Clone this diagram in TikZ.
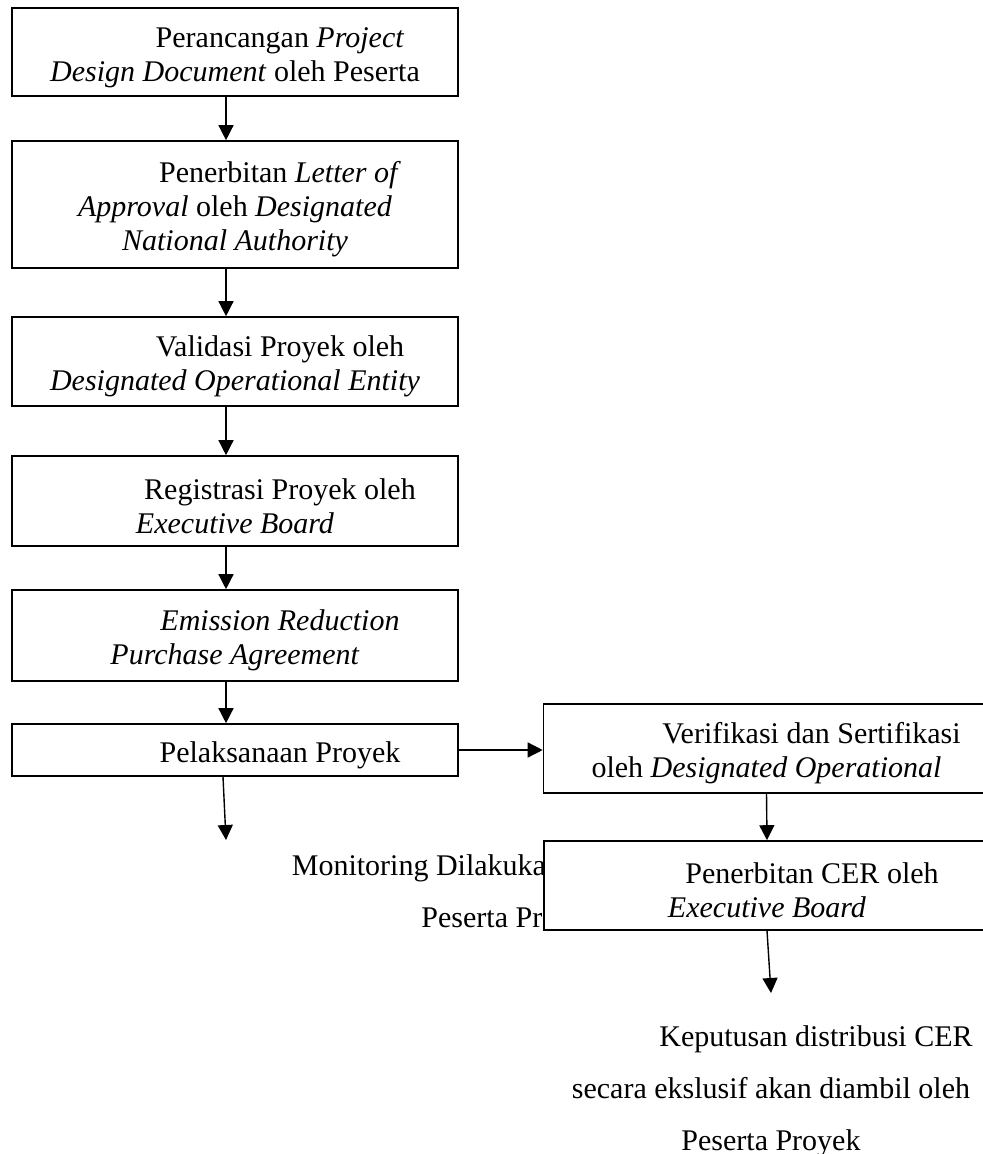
\documentclass[tikz,border=0pt]{standalone}
\usepackage{fontspec}
\setmainfont{Liberation Serif}
\usetikzlibrary{arrows.meta,positioning}
\newcommand{\ind}{\hspace*{3em}\rule{0pt}{15.5pt}}

\begin{document}
\begin{tikzpicture}[x=0.5pt, y=-0.5pt,
    box/.style={draw, line width=0.8pt, fill=white, inner sep=0pt, minimum width=223pt, align=center, font=\fontsize{15}{17}\selectfont},
    arr/.style={-{Triangle[length=7.5pt,width=7.5pt]}, line width=0.7pt},
    note/.style={align=center, font=\fontsize{15}{26}\selectfont}
]
\useasboundingbox (0,0) rectangle (982,1154);
\node[box, minimum height=44pt] (pdd) at (235,52) {\ind Perancangan \emph{Project}\\\emph{Design Document} oleh Peserta};
\node[box, minimum height=63.5pt] (loa) at (235,204.5) {\ind Penerbitan \emph{Letter of}\\\emph{Approval} oleh \emph{Designated}\\\emph{National Authority}};
\node[box, minimum height=44.5pt] (val) at (235,361.5) {\ind Validasi Proyek oleh\\\emph{Designated Operational Entity}};
\node[box, minimum height=45pt] (reg) at (235,501) {\ind Registrasi Proyek oleh\\\emph{Executive Board}};
\node[box, minimum height=45.5pt] (erpa) at (235,635.5) {\ind\emph{Emission Reduction}\\\emph{Purchase Agreement}};
\node[box, minimum height=26pt] (pel) at (235,750) {\ind Pelaksanaan Proyek};
\node[box, minimum height=44.5pt] (ver) at (766.5,748.5) {\ind Verifikasi dan Sertifikasi\\oleh \emph{Designated Operational}};
% monitoring text runs under the CER box
\begin{scope}
  \clip (0,0) rectangle (544,1154);
  \node[note] (mon) at (456,894) {Monitoring Dilakukan oleh\\\hspace*{55pt}Peserta Proyek};
\end{scope}
\node[box, minimum height=44.5pt] (cer) at (767,885.5) {\ind Penerbitan CER oleh\\\emph{Executive Board}};
\node[note] (dist) at (771,1091) {\hspace*{3em}Keputusan distribusi CER\\secara ekslusif akan diambil oleh\\Peserta Proyek};
\coordinate (monend) at (226,840);
\coordinate (distend) at (771,993);
\draw[arr] ([xshift=-4.5pt]pdd.south) -- ([xshift=-4.5pt]loa.north);
\draw[arr] ([xshift=-4.5pt]loa.south) -- ([xshift=-4.5pt]val.north);
\draw[arr] ([xshift=-4.5pt]val.south) -- ([xshift=-4.5pt]reg.north);
\draw[arr] ([xshift=-4.5pt]reg.south) -- ([xshift=-4.5pt]erpa.north);
\draw[arr] ([xshift=-4.5pt]erpa.south) -- ([xshift=-4.5pt]pel.north);
\draw[arr] (pel.east) -- (pel.east -| ver.west);
\draw[arr] ([xshift=-6pt]pel.south) -- (monend);
\draw[arr] (ver.south) -- (cer.north);
\draw[arr] (cer.south) -- (distend);
\end{tikzpicture}
\end{document}
